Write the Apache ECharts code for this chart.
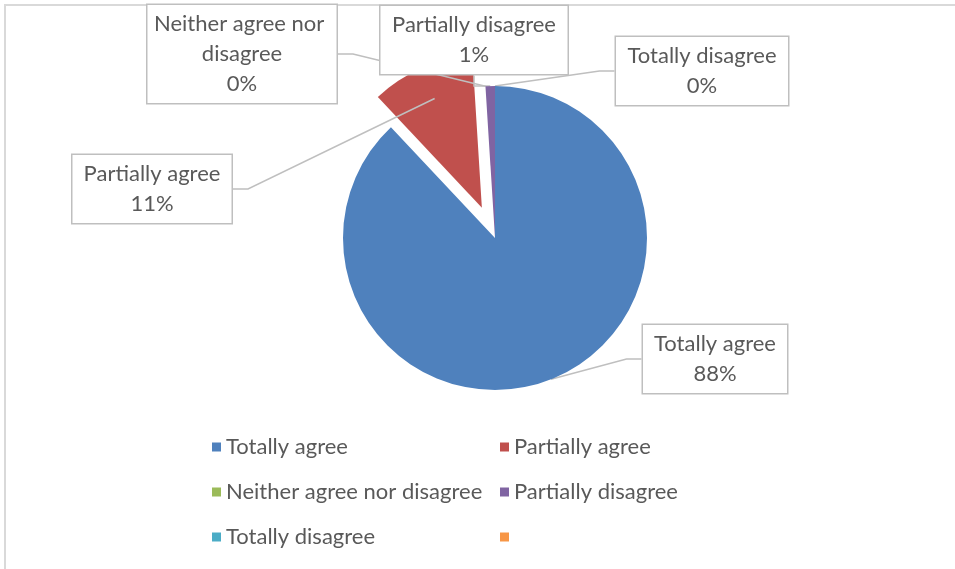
<!DOCTYPE html>
<html>
<head>
<meta charset="utf-8">
<script src="https://cdn.jsdelivr.net/npm/echarts@6/dist/echarts.min.js"></script>
<style>
html,body{margin:0;padding:0;background:#fff;}
#chart{width:955px;height:569px;}
</style>
</head>
<body>
<div id="chart"></div>
<script>
// ---- data ----
const categories = ['Totally agree', 'Partially agree', 'Neither agree nor disagree', 'Partially disagree', 'Totally disagree', ' '];
const shares = [88, 11, 0, 1, 0, 0];
const colors = ['#4f81bd', '#c0504d', '#9bbb59', '#8064a2', '#4bacc6', '#f79646'];
const legendLeft = ['Totally agree', 'Neither agree nor disagree', 'Totally disagree'];
const legendRight = ['Partially agree', 'Partially disagree', ' '];
const explodedIndex = 1;

// ---- label callout boxes (center x, center y, width) ----
const labelBoxes = [
  [715, 359, 144],
  [152, 189, 159],
  [242, 54, 189],
  [474, 40, 187],
  [702, 71, 172],
  [0, 0, 10]
];

const chart = echarts.init(document.getElementById('chart'), null, {renderer: 'canvas'});
const font = 'Lato, "Open Sans", sans-serif';
const CX = 495, CY = 238, R = 152, EXPLODE = 33;

// direction of the exploded slice from the pie's own angles
const total = shares.reduce((a, b) => a + b, 0);
const before = shares.slice(0, explodedIndex).reduce((a, b) => a + b, 0);
const midFrac = (before + shares[explodedIndex] / 2) / total;
const midRad = midFrac * 2 * Math.PI; // clockwise from 12 o'clock
const exCenter = [CX + EXPLODE * Math.sin(midRad), CY - EXPLODE * Math.cos(midRad)];

const colorOf = name => colors[categories.indexOf(name)];
const CLEAR = 'rgba(255,255,255,0)';

const mainData = categories.map((c, i) => ({
  name: c,
  value: shares[i],
  itemStyle: {color: i === explodedIndex ? CLEAR : colors[i]},
  label: {show: i < 5, opacity: 1},
  labelLine: {show: i < 5}
}));
const exData = categories.map((c, i) => ({
  name: c,
  value: shares[i],
  itemStyle: {color: i === explodedIndex ? colors[i] : CLEAR}
}));

const legendCommon = {
  orient: 'vertical',
  top: 436,
  itemGap: 23,
  itemWidth: 9,
  itemHeight: 9,
  icon: 'rect',
  selectedMode: false,
  padding: 0,
  textStyle: {fontSize: 22, color: '#595959', fontFamily: font, lineHeight: 22}
};
const legendItems = names => names.map(n => ({name: n, itemStyle: {color: colorOf(n), opacity: 1}}));

chart.setOption({
  animation: false,
  backgroundColor: '#fff',
  color: colors,
  graphic: [{
    type: 'rect',
    shape: {x: 5, y: 5, width: 1000, height: 600},
    style: {fill: 'none', stroke: '#d9d9d9', lineWidth: 2},
    silent: true
  }],
  legend: [
    Object.assign({left: 212, data: legendItems(legendLeft)}, legendCommon),
    Object.assign({left: 500, data: legendItems(legendRight)}, legendCommon)
  ],
  series: [{
    name: 'main',
    type: 'pie',
    center: [CX, CY],
    radius: R,
    startAngle: 90,
    clockwise: true,
    avoidLabelOverlap: false,
    stillShowZeroSum: true,
    emphasis: {disabled: true},
    label: {
      show: true,
      position: 'outside',
      formatter: p => p.name + '\n' + Math.round(p.percent) + '%',
      fontFamily: font,
      fontSize: 22,
      color: '#595959',
      lineHeight: 30,
      backgroundColor: '#ffffff',
      borderColor: '#bfbfbf',
      borderWidth: 1.5,
      padding: [4, 0],
      align: 'center',
      overflow: 'break'
    },
    labelLine: {
      show: true,
      length: 15,
      length2: 15,
      lineStyle: {color: '#bfbfbf', width: 1.5}
    },
    labelLayout: function (p) {
      const b = labelBoxes[p.dataIndex];
      return {x: b[0], y: b[1], width: b[2], align: 'center', verticalAlign: 'middle'};
    },
    data: mainData,
    z: 2
  }, {
    name: 'exploded',
    type: 'pie',
    center: exCenter,
    radius: R,
    startAngle: 90,
    clockwise: true,
    silent: true,
    stillShowZeroSum: true,
    emphasis: {disabled: true},
    label: {show: false},
    labelLine: {show: false},
    data: exData,
    z: 1
  }]
});
</script>
</body>
</html>
